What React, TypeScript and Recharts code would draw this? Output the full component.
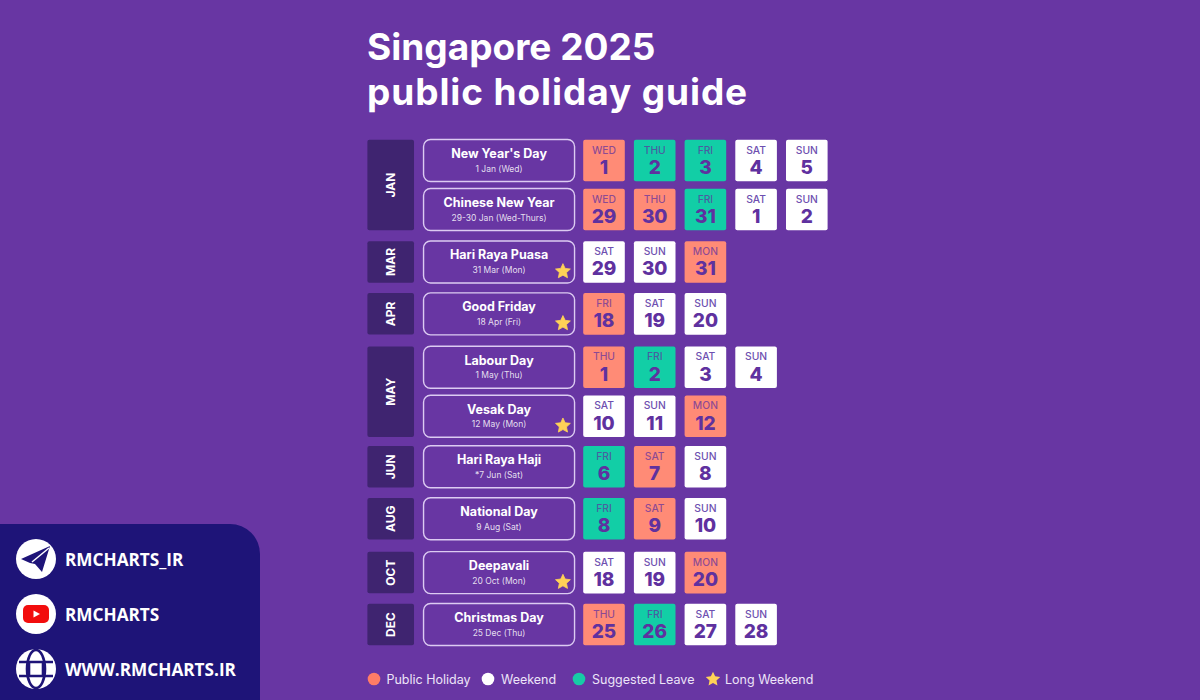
// Singapore 2025 public holiday guide: a calendar grid drawn as scatter series with custom shapes.
import React from 'react';
import { ScatterChart, Scatter, XAxis, YAxis, Legend } from 'recharts';

const TITLE_LINES = ['Singapore 2025', 'public holiday guide'];
const ROW_MONTHS = ['JAN', 'JAN', 'MAR', 'APR', 'MAY', 'MAY', 'JUN', 'AUG', 'OCT', 'DEC'];
const HOLIDAYS = ["New Year's Day", 'Chinese New Year', 'Hari Raya Puasa', 'Good Friday', 'Labour Day', 'Vesak Day', 'Hari Raya Haji', 'National Day', 'Deepavali', 'Christmas Day'];
const HOLIDAY_DATES = ['1 Jan (Wed)', '29-30 Jan (Wed-Thurs)', '31 Mar (Mon)', '18 Apr (Fri)', '1 May (Thu)', '12 May (Mon)', '*7 Jun (Sat)', '9 Aug (Sat)', '20 Oct (Mon)', '25 Dec (Thu)'];
const LONG_WEEKENDS = ['Hari Raya Puasa', 'Good Friday', 'Vesak Day', 'Deepavali'];
const ROW_DAYS = [[1, 2, 3, 4, 5], [29, 30, 31, 1, 2], [29, 30, 31], [18, 19, 20], [1, 2, 3, 4], [10, 11, 12], [6, 7, 8], [8, 9, 10], [18, 19, 20], [25, 26, 27, 28]];
const ROW_WEEKDAYS = [
  ['WED', 'THU', 'FRI', 'SAT', 'SUN'], ['WED', 'THU', 'FRI', 'SAT', 'SUN'], ['SAT', 'SUN', 'MON'], ['FRI', 'SAT', 'SUN'], ['THU', 'FRI', 'SAT', 'SUN'],
  ['SAT', 'SUN', 'MON'], ['FRI', 'SAT', 'SUN'], ['FRI', 'SAT', 'SUN'], ['SAT', 'SUN', 'MON'], ['THU', 'FRI', 'SAT', 'SUN'],
];
// P = public holiday, W = weekend, L = suggested leave
const ROW_KINDS = ['PLLWW', 'PPLWW', 'WWP', 'PWW', 'PLWW', 'WWP', 'LPW', 'LPW', 'WWP', 'PLWW'];
const SOCIALS = ['RMCHARTS_IR', 'RMCHARTS', 'WWW.RMCHARTS.IR'];

// Layout: distance between rows, in row units, and where things sit on the column axis
const ROW_STEPS = [1, 1.07, 1.06, 1.09, 1, 1.03, 1.06, 1.1, 1.06];
const ROW_PX = 49;
const COL_PX = 50.7;
const LEGEND_H = 24; // the legend box is taken off the plot height
const COL_DOMAIN = [-604 / COL_PX, (1200 - 604) / COL_PX];
const ROW_DOMAIN = [-160.5 / ROW_PX, (700 - LEGEND_H - 160.5) / ROW_PX];
const MONTH_COL = -4.207;
const HOLIDAY_COL = -2.07;
const STAR_COL = -0.81;

const BG = '#6836A3';
const INK = '#5F319F';
const FONT = 'Inter, "Noto Sans", sans-serif';
const KIND_FILL: Record<string, string> = { P: '#FF8B76', W: '#FFFFFF', L: '#12CEA6' };
const KIND_NAME: Record<string, string> = { P: 'Public Holiday', W: 'Weekend', L: 'Suggested Leave' };
const LEGEND_DOT: Record<string, string> = { 'Public Holiday': '#FF7C66', Weekend: '#FFFFFF', 'Suggested Leave': '#17CBA6', 'Long Weekend': '#FFD257' };
const LEGEND_POS: Record<string, number> = { 'Public Holiday': 373.5, Weekend: 488, 'Suggested Leave': 579, 'Long Weekend': 713 };

const rowSlots = ROW_STEPS.reduce<number[]>((acc, s) => [...acc, acc[acc.length - 1] + s], [0]);

const cellData = (kind: string) =>
  ROW_DAYS.flatMap((days, r) =>
    days.map((day, col) => ({ col, slot: rowSlots[r], day, weekday: ROW_WEEKDAYS[r][col], kind: ROW_KINDS[r][col] }))
  ).filter(c => c.kind === kind);

const holidayData = HOLIDAYS.map((name, r) => ({ col: HOLIDAY_COL, slot: rowSlots[r], name, date: HOLIDAY_DATES[r] }));
const starData = HOLIDAYS.map((name, r) => ({ col: STAR_COL, slot: rowSlots[r], name })).filter(h => LONG_WEEKENDS.includes(h.name));
const monthData = [...new Set(ROW_MONTHS)].map(month => {
  const slots = rowSlots.filter((_, r) => ROW_MONTHS[r] === month);
  return { col: MONTH_COL, slot: (slots[0] + slots[slots.length - 1]) / 2, month, span: slots[slots.length - 1] - slots[0] };
});

function starPoints(cx: number, cy: number, r: number) {
  const pts: string[] = [];
  for (let i = 0; i < 10; i++) {
    const rad = i % 2 === 0 ? r : r * 0.48;
    const a = -Math.PI / 2 + (i * Math.PI) / 5;
    pts.push(`${cx + rad * Math.cos(a)},${cy + rad * Math.sin(a)}`);
  }
  return pts.join(' ');
}

const DayCell = ({ cx, cy, payload }: any) => {
  const white = payload.kind === 'W';
  return (
    <g fontFamily={FONT}>
      <rect x={cx - 20.8} y={cy - 20.8} width={41.6} height={41.6} rx={2} fill={KIND_FILL[payload.kind]} />
      <text x={cx} y={cy - 11} textAnchor="middle" dominantBaseline="central" fontSize={10.3} fontWeight={500} fill={white ? '#6E4FB0' : INK} fillOpacity={white ? 1 : 0.72}>{payload.weekday}</text>
      <text x={cx} y={cy + 7} textAnchor="middle" dominantBaseline="central" fontSize={19} fontWeight={800} fill={INK}>{payload.day}</text>
    </g>
  );
};

const HolidayBox = ({ cx, cy, payload }: any) => (
  <g fontFamily={FONT} fill="#FFFFFF">
    <rect x={cx - 75.5} y={cy - 21} width={151} height={42} rx={7} fill="none" stroke="#DCCBF2" strokeWidth={1.4} />
    <text x={cx} y={cy - 7} textAnchor="middle" dominantBaseline="central" fontSize={12.5} fontWeight={700}>{payload.name}</text>
    <text x={cx} y={cy + 8} textAnchor="middle" dominantBaseline="central" fontSize={8.5} fillOpacity={0.85}>{payload.date}</text>
  </g>
);

const MonthBar = ({ cx, cy, payload }: any) => {
  const h = 41.5 + payload.span * ROW_PX;
  return (
    <g>
      <rect x={cx - 23.3} y={cy - h / 2} width={46.6} height={h} rx={2} fill="#3F2470" />
      <text transform={`translate(${cx} ${cy}) rotate(-90)`} textAnchor="middle" dominantBaseline="central" fontFamily={FONT} fontSize={12} fontWeight={700} fill="#FFFFFF">{payload.month}</text>
    </g>
  );
};

const StarMark = ({ cx, cy }: any) => <polygon points={starPoints(cx, cy + 9.5, 7.8)} fill="#FFD257" stroke="#FFD257" strokeWidth={0.8} strokeLinejoin="round" />;

const LegendRow = ({ payload }: any) => (
  <div style={{ position: 'relative', height: LEGEND_H, fontFamily: FONT, fontSize: 12.5, color: '#EDE4F8' }}>
    {(payload || []).filter((p: any) => p.value in LEGEND_POS).map((p: any) => {
      const x = LEGEND_POS[p.value];
      const isStar = p.value === 'Long Weekend';
      return (
        <div key={p.value} style={{ position: 'absolute', left: x - 8, top: 0, height: LEGEND_H, display: 'flex', alignItems: 'center', whiteSpace: 'nowrap' }}>
          <svg width={16} height={16} style={{ marginRight: isStar ? 4 : 5 }}>
            {isStar
              ? <polygon points={starPoints(8, 8.3, 7.6)} fill={LEGEND_DOT[p.value]} />
              : <circle cx={8} cy={8} r={6.3} fill={LEGEND_DOT[p.value]} />}
          </svg>
          {p.value}
        </div>
      );
    })}
  </div>
);

const SocialIcon = ({ index }: { index: number }) => (
  <svg width={40} height={40} viewBox="0 0 40 40">
    <circle cx={20} cy={20} r={20} fill="#FFFFFF" />
    {index === 0 && (
      <g>
        <polygon points="5,20 34,7 26,33 19,25 14,24" fill="#1E1478" />
        <line x1={33} y1={9} x2={16} y2={23} stroke="#FFFFFF" strokeWidth={1.5} />
      </g>
    )}
    {index === 1 && (
      <g>
        <rect x={7} y={11} width={26} height={18} rx={5} fill="#F20D0D" />
        <polygon points="17.5,16.5 24,20 17.5,23.5" fill="#FFFFFF" />
      </g>
    )}
    {index === 2 && (
      <g fill="none" stroke="#1E1478" strokeWidth={2.6}>
        <ellipse cx={20} cy={20} rx={9} ry={19} />
        <line x1={3} y1={13} x2={37} y2={13} />
        <line x1={3} y1={27} x2={37} y2={27} />
        <line x1={13} y1={13} x2={13} y2={27} />
        <line x1={27} y1={13} x2={27} y2={27} />
      </g>
    )}
  </svg>
);

export default function App() {
  return (
    <div style={{ position: 'absolute', left: 0, top: 0, width: 1200, height: 700, background: BG, overflow: 'hidden' }}>
      <div style={{ position: 'absolute', left: 367, top: 24, fontFamily: FONT, fontWeight: 700, fontSize: 37, lineHeight: '45px', color: '#FFFFFF', whiteSpace: 'nowrap' }}>
        <div>{TITLE_LINES[0]}</div>
        <div style={{ letterSpacing: 0.9 }}>{TITLE_LINES[1]}</div>
      </div>
      <div style={{ position: 'absolute', left: 0, top: 0 }}>
        <ScatterChart width={1200} height={700} margin={{ top: 0, right: 0, bottom: 0, left: 0 }}>
          <XAxis type="number" dataKey="col" domain={COL_DOMAIN} hide allowDataOverflow />
          <YAxis type="number" dataKey="slot" domain={ROW_DOMAIN} reversed hide allowDataOverflow />
          <Scatter data={monthData} legendType="none" shape={MonthBar} isAnimationActive={false} />
          <Scatter data={holidayData} legendType="none" shape={HolidayBox} isAnimationActive={false} />
          {Object.keys(KIND_FILL).map(kind => (
            <Scatter key={kind} name={KIND_NAME[kind]} data={cellData(kind)} fill={KIND_FILL[kind]} shape={DayCell} isAnimationActive={false} />
          ))}
          <Scatter name="Long Weekend" data={starData} fill="#FFD257" shape={StarMark} isAnimationActive={false} />
          <Legend content={LegendRow} wrapperStyle={{ left: 0, top: 667, width: 1200, height: LEGEND_H }} />
        </ScatterChart>
      </div>
      <div style={{ position: 'absolute', left: 0, top: 524, width: 260, height: 176, background: '#1E1478', borderTopRightRadius: 30 }}>
        {SOCIALS.map((label, i) => (
          <div key={label} style={{ position: 'absolute', left: 16, top: 15 + i * 55, height: 40, display: 'flex', alignItems: 'center' }}>
            <SocialIcon index={i} />
            <span style={{ marginLeft: 9, fontFamily: '"Open Sans", sans-serif', fontWeight: 700, fontSize: 17.2, color: '#FFFFFF', whiteSpace: 'nowrap' }}>{label}</span>
          </div>
        ))}
      </div>
    </div>
  );
}
